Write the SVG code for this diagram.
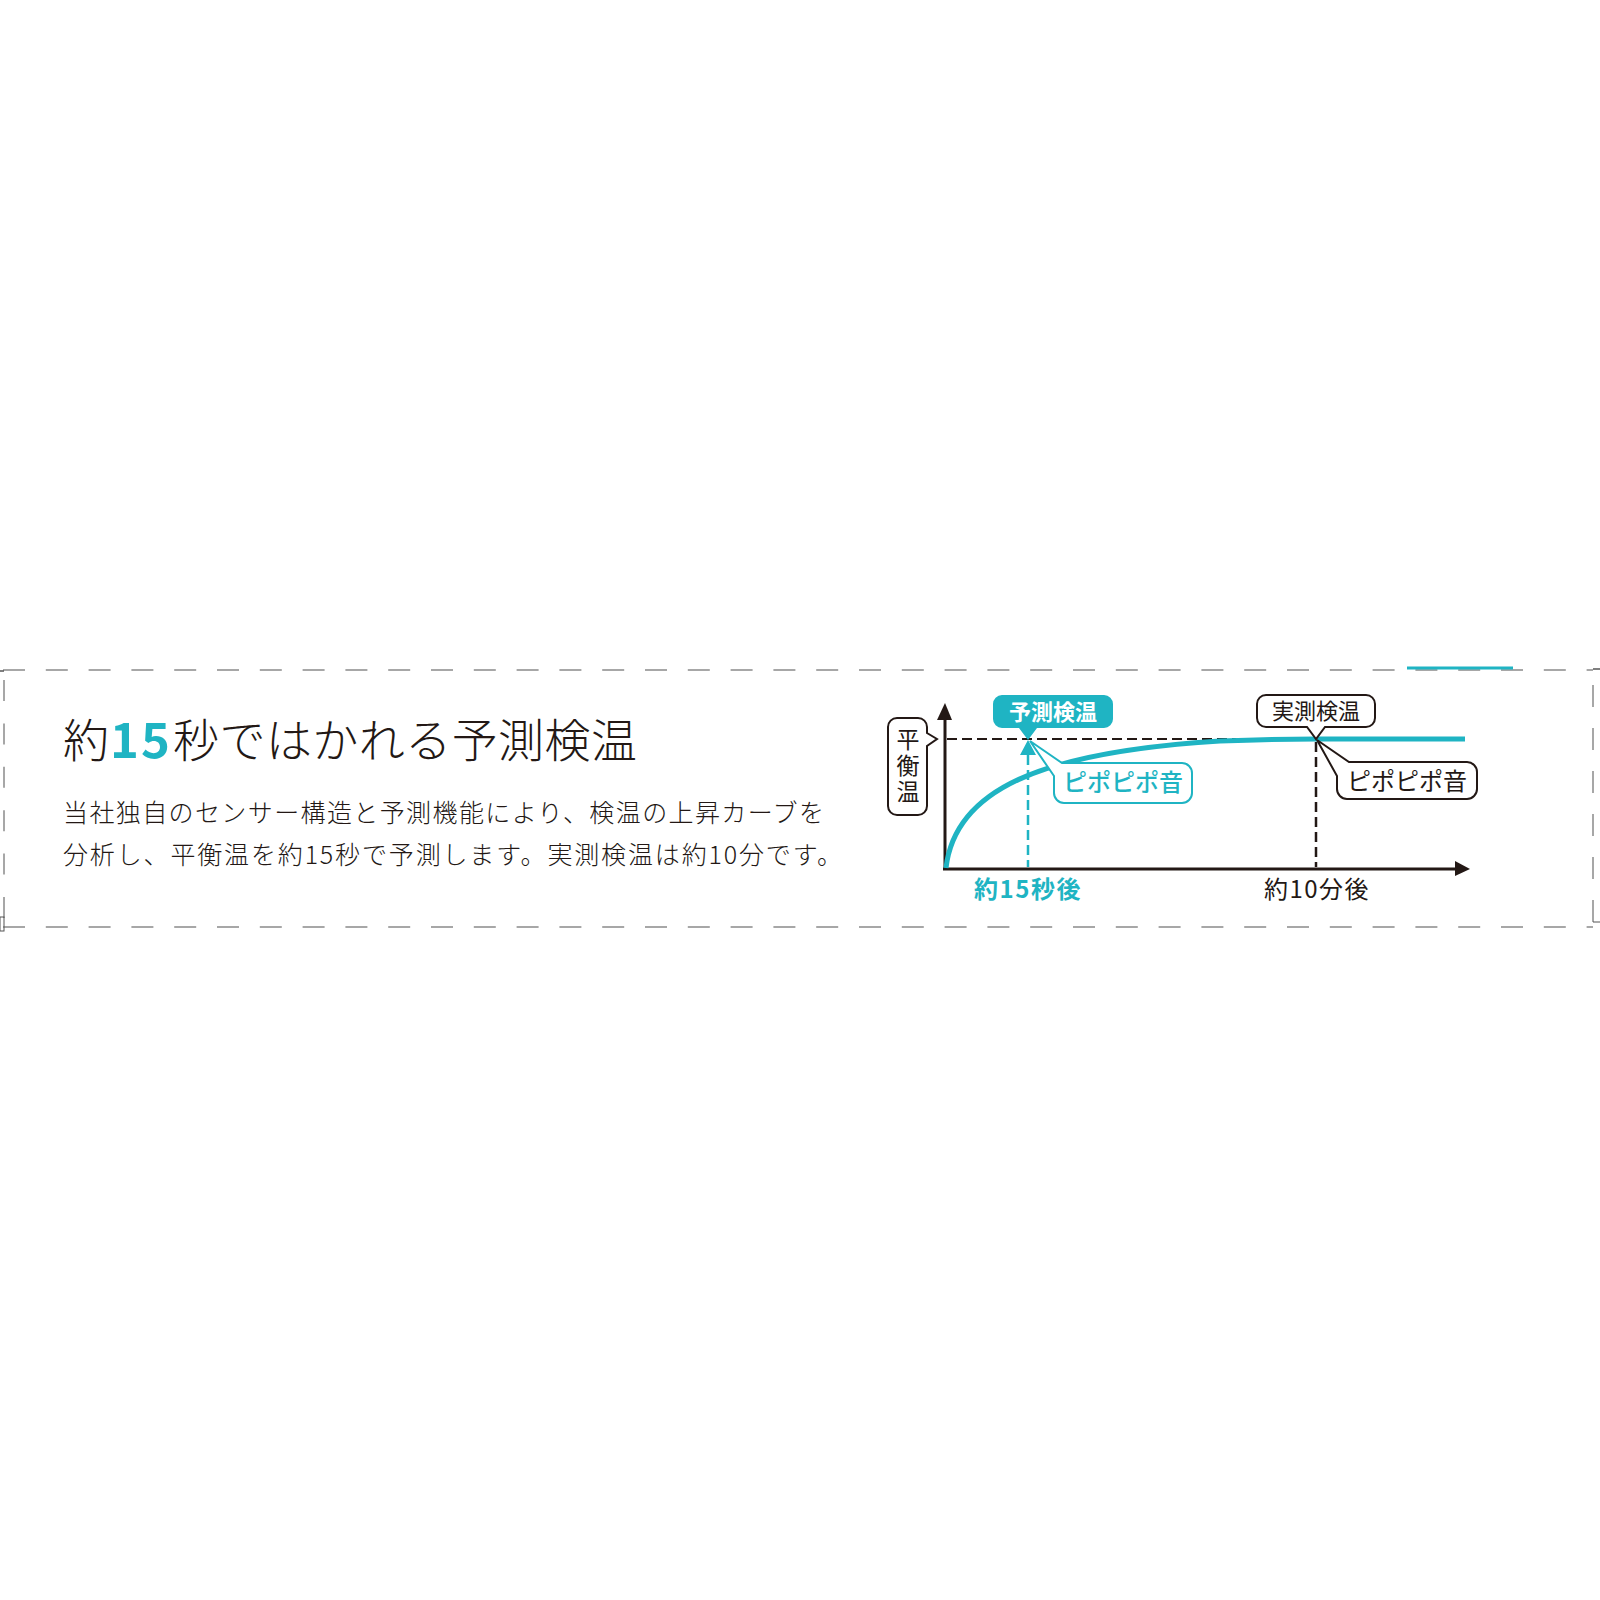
<svg xmlns="http://www.w3.org/2000/svg" width="1600" height="1600" viewBox="0 0 1600 1600">
<style>
.jp{font-family:"Noto Sans CJK JP","Noto Sans CJK SC",sans-serif}
.blk{fill:#231815}
.teal{fill:#1fb4c3}
.border{stroke:#8a8a8a;stroke-width:1.5;fill:none}
.axis{stroke:#231815;stroke-width:3;fill:none}
.bbox{fill:#fff;stroke:#231815;stroke-width:2}
.tbox{fill:#fff;stroke:#1fb4c3;stroke-width:2}
</style>
<rect width="1600" height="1600" fill="#fff"/>

<g id="frame">
<line class="border" x1="3" y1="670" x2="1593" y2="670" stroke-dasharray="22 20.8"/>
<line class="border" x1="3" y1="927" x2="1593" y2="927" stroke-dasharray="22 20.8"/>
<line class="border" x1="4" y1="680" x2="4" y2="927" stroke-dasharray="21 22.4"/>
<line class="border" x1="1593" y1="685" x2="1593" y2="932" stroke-dasharray="22 21"/>
<line x1="0" y1="671" x2="4" y2="671" stroke="#555" stroke-width="1.5"/>
<line x1="1593" y1="669" x2="1600" y2="669" stroke="#555" stroke-width="1.5"/>
<rect x="0" y="917" width="4" height="14" fill="none" stroke="#555" stroke-width="1"/>
<line x1="1593" y1="922" x2="1600" y2="922" stroke="#555" stroke-width="1"/>
<line x1="1407" y1="668" x2="1513" y2="668" stroke="#1fb4c3" stroke-width="3"/>
</g>

<g id="title">
<text class="jp blk" x="63" y="757" font-size="46" font-weight="300">約</text>
<text class="jp teal" x="110" y="758" font-size="49" font-weight="700" letter-spacing="2">15</text>
<text class="jp blk" x="173" y="757" font-size="46" font-weight="300" textLength="464" lengthAdjust="spacing">秒ではかれる予測検温</text>
</g>

<g id="body">
<text class="jp blk" x="63" y="822" font-size="25" font-weight="300" textLength="761" lengthAdjust="spacing">当社独自のセンサー構造と予測機能により、検温の上昇カーブを</text>
<text class="jp blk" x="63" y="864" font-size="25" font-weight="300" textLength="779" lengthAdjust="spacing">分析し、平衡温を約15秒で予測します。実測検温は約10分です。</text>
</g>

<g id="connectors">
<line class="axis" x1="945" y1="869" x2="945" y2="716"/>
<path d="M937,720 L945,703 L952,720 Z" fill="#231815"/>
<line class="axis" x1="943" y1="869" x2="1458" y2="869"/>
<path d="M1455,861 L1470,869 L1455,876 Z" fill="#231815"/>
<line x1="947" y1="739" x2="1316" y2="739" stroke="#231815" stroke-width="2" stroke-dasharray="10 5"/>
<line x1="1028" y1="755" x2="1028" y2="867" stroke="#1fb4c3" stroke-width="2.5" stroke-dasharray="10 5"/>
<path d="M1020,755 L1028,740 L1036,755 Z" fill="#1fb4c3"/>
<line x1="1316" y1="742" x2="1316" y2="867" stroke="#231815" stroke-width="2.5" stroke-dasharray="10 5"/>
<path d="M946,868 C955,790 1040,752 1220,741 C1260,739.5 1290,739 1316,739 L1465,739" fill="none" stroke="#1fb4c3" stroke-width="5"/>
</g>

<g id="node-heikouon">
<path class="bbox" d="M897,718 H918 A9,9 0 0 1 927,727 V733 L937,739 L927,746 V806 A9,9 0 0 1 918,815 H897 A9,9 0 0 1 888,806 V727 A9,9 0 0 1 897,718 Z"/>
<text class="jp blk" x="908" y="728" font-size="23" writing-mode="vertical-rl" letter-spacing="3">平衡温</text>
</g>

<g id="node-yosoku">
<path d="M1002,695 H1104 A9,9 0 0 1 1113,704 V719 A9,9 0 0 1 1104,728 H1037 L1028,740 L1019,728 H1002 A9,9 0 0 1 993,719 V704 A9,9 0 0 1 1002,695 Z" fill="#1fb4c3"/>
<text class="jp" x="1053" y="720" font-size="22" font-weight="700" fill="#fff" text-anchor="middle">予測検温</text>
</g>

<g id="node-pipo-teal">
<path class="tbox" d="M1030,741 L1062,763 H1182 A10,10 0 0 1 1192,773 V793 A10,10 0 0 1 1182,803 H1064 A10,10 0 0 1 1054,793 V776 Z"/>
<text class="jp teal" x="1123" y="791" font-size="24" font-weight="500" text-anchor="middle">ピポピポ音</text>
</g>

<g id="node-jissoku">
<path class="bbox" d="M1266,695 H1366 A9,9 0 0 1 1375,704 V718 A9,9 0 0 1 1366,727 H1325 L1316,739 L1307,727 H1266 A9,9 0 0 1 1257,718 V704 A9,9 0 0 1 1266,695 Z"/>
<text class="jp blk" x="1316" y="719" font-size="22" text-anchor="middle">実測検温</text>
</g>

<g id="node-pipo-black">
<path class="bbox" d="M1317,740 L1349,762 H1467 A10,10 0 0 1 1477,772 V789 A10,10 0 0 1 1467,799 H1347 A10,10 0 0 1 1337,789 V776 Z"/>
<text class="jp blk" x="1407" y="790" font-size="24" text-anchor="middle">ピポピポ音</text>
</g>

<g id="label-15s">
<text class="jp teal" x="1028" y="898" font-size="24" font-weight="700" text-anchor="middle" letter-spacing="1.5">約15秒後</text>
</g>
<g id="label-10m">
<text class="jp blk" x="1317" y="898" font-size="24" text-anchor="middle" letter-spacing="1.5">約10分後</text>
</g>
</svg>
